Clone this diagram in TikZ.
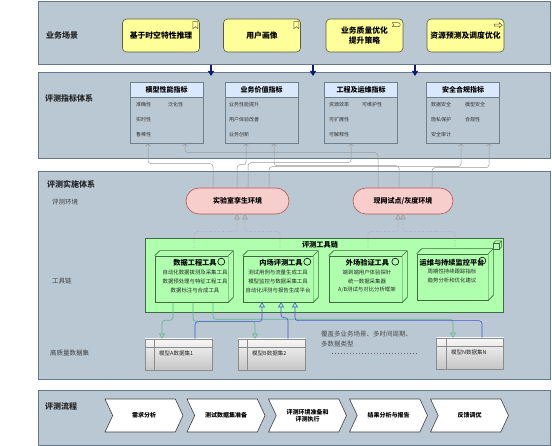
\documentclass[tikz,border=0pt]{standalone}
\usepackage{fontspec}
\setmainfont{Noto Sans CJK SC}
\usetikzlibrary{arrows.meta,shapes.symbols,calc}

\definecolor{panelc}{HTML}{BAC8D3}
\definecolor{paneld}{HTML}{647A8C}
\definecolor{busfill}{HTML}{FFFF99}
\definecolor{busline}{HTML}{5C5C3D}
\definecolor{hdrfill}{HTML}{DAE8FC}
\definecolor{boxline}{HTML}{6E7F8E}
\definecolor{envfill}{HTML}{F8CECC}
\definecolor{envline}{HTML}{B85450}
\definecolor{techfill}{HTML}{AFFFAF}
\definecolor{techline}{HTML}{3F6B3F}
\definecolor{navyc}{HTML}{0B1A7A}
\definecolor{greenc}{HTML}{5DB88F}
\definecolor{bluec}{HTML}{4657D6}
\definecolor{grayc}{HTML}{9A9A9A}
\definecolor{dsline}{HTML}{8C8C8C}

\newcommand{\fsz}[2]{\fontsize{#1}{#2}\selectfont}
\newcommand{\cubeface}[1]{%
  \fill[techfill] (#1.north west) -- ++(5,-5) -- ([shift={(5,-5)}]#1.north east) -- ([shift={(5,-5)}]#1.south east) -- (#1.south east) -- (#1.north east) -- cycle;
  \draw[techline, line width=0.6pt, line join=round] (#1.north west) -- ++(5,-5) -- ([shift={(5,-5)}]#1.north east) -- ([shift={(5,-5)}]#1.south east) -- (#1.south east) (#1.north east) -- ++(5,-5);
}

\tikzset{
  panel/.style={draw=paneld, fill=panelc, line width=0.8pt, inner sep=0pt, anchor=north west},
  plabel/.style={anchor=west, inner sep=0pt, font=\fsz{8}{9}\bfseries, text=black!85},
  slabel/.style={anchor=west, inner sep=0pt, font=\fsz{6.5}{7.5}, text=black!75},
  busbox/.style={draw=busline, fill=busfill, rounded corners=4pt, minimum width=77pt, minimum height=33pt, font=\fsz{7.8}{10}\bfseries, align=center, inner sep=0pt, line width=0.6pt},
  mbox/.style={draw=boxline, line width=0.6pt, minimum width=73pt, minimum height=61pt, inner sep=0pt},
  mhdr/.style={draw=boxline, fill=hdrfill, line width=0.6pt, minimum width=73pt, minimum height=15pt, inner sep=0pt, font=\fsz{7}{8}\bfseries},
  mitem/.style={anchor=west, inner sep=0pt, font=\fsz{5}{6}, text=black!80},
  env/.style={draw=envline, fill=envfill, rounded corners=13pt, minimum height=26pt, inner sep=0pt, font=\fsz{7}{8}\bfseries, line width=0.6pt},
  tool/.style={draw=techline, fill=techfill, line width=0.6pt, inner sep=0pt},
  toolt/.style={font=\fsz{7.2}{8}\bfseries, inner sep=0pt},
  toolb/.style={font=\fsz{5.4}{8.6}, align=center, inner sep=0pt, text=black!85},
  ds/.style={draw=dsline, top color=gray!6, bottom color=gray!45, minimum width=67pt, minimum height=31pt, inner sep=0pt, line width=0.6pt},
  dst/.style={anchor=west, font=\fsz{5.5}{6.5}, inner sep=0pt, text=black!85},
  chev/.style={signal, signal to=east, signal from=west, signal pointer angle=130, draw=black!75, fill=white, minimum width=78pt, minimum height=33pt, inner sep=0pt, font=\fsz{6}{7.5}\bfseries, align=center, line width=0.6pt},
  gl/.style={draw=grayc, line width=0.5pt, rounded corners=3pt, -{Straight Barb[length=2.5pt,width=5pt]}},
  dl/.style={draw=grayc, line width=0.6pt, dotted, rounded corners=3pt, -{Triangle[open,length=5pt,width=5.5pt]}},
  gr/.style={draw=greenc, line width=0.6pt, rounded corners=3pt, -{Triangle[open,length=5pt,width=6pt]}},
  bl/.style={draw=bluec, line width=0.6pt, rounded corners=3pt, -{Triangle[open,length=5pt,width=6pt]}},
  nav/.style={draw=navyc, line width=1.3pt, -{Triangle[length=5pt,width=6pt]}},
  icon/.style={draw=busline, line width=0.5pt}
}

\begin{document}
\begin{tikzpicture}[x=1pt,y=-1pt]
\useasboundingbox (0,0) rectangle (552,446);

% panels
\node[panel, minimum width=512pt, minimum height=63pt] (p1) at (38,1) {};
\node[panel, minimum width=512pt, minimum height=86pt] (p2) at (38,72) {};
\node[panel, minimum width=512pt, minimum height=208pt] (p3) at (38,171) {};
\node[panel, minimum width=512pt, minimum height=55pt] (p4) at (38,390) {};

% labels
\node[plabel] (l1) at (46,35) {业务场景};
\node[plabel] (l2) at (45,98) {评测指标体系};
\node[plabel] (l3) at (47,184) {评测实施体系};
\node[slabel] (l3a) at (52,202) {评测环境};
\node[slabel] (l3b) at (52,281) {工具链};
\node[slabel] (l3c) at (50,353) {高质量数据集};
\node[plabel] (l4) at (45,406) {评测流程};

% business scenarios
\node[busbox] (s1) at (161,35.5) {基于时空特性推理};
\node[busbox] (s2) at (262,35.5) {用户画像};
\node[busbox] (s3) at (364.5,35.5) {业务质量优化\\提升策略};
\node[busbox] (s4) at (465.5,35.5) {资源预测及调度优化};
\draw[icon] ([shift={(-7,3)}]s1.north east) -- ++(5,0) -- ++(0,7) -- ++(-2.5,-2) -- ++(-2.5,2) -- cycle;
\draw[icon] ([shift={(-7,3)}]s2.north east) -- ++(5,0) -- ++(0,7) -- ++(-2.5,-2) -- ++(-2.5,2) -- cycle;
\draw[icon] ([shift={(-11,4)}]s3.north east) -- ++(6,0) .. controls ++(2.5,0) and ++(2.5,0) .. ++(0,4) -- ++(-6,0) -- ++(1.5,-2) -- cycle;
\draw[icon] ([shift={(-10,5.5)}]s4.north east) -- ++(5,0) -- ++(0,-1.5) -- ++(3,2.5) -- ++(-3,2.5) -- ++(0,-1.5) -- ++(-5,0) -- cycle;

% navy arrows
\draw[nav] ([xshift=173pt]p1.south west) -- ([xshift=173pt,yshift=-4pt]p2.north west);
\draw[nav] ([xshift=275pt]p1.south west) -- ([xshift=275pt,yshift=-4pt]p2.north west);
\draw[nav] ([xshift=377pt]p1.south west) -- ([xshift=377pt,yshift=-4pt]p2.north west);

% metric boxes
\node[mbox] (m1) at (166.5,112.5) {};
\node[mhdr, anchor=north] (m1h) at (m1.north) {模型性能指标};
\node[mbox] (m2) at (261.5,112.5) {};
\node[mhdr, anchor=north] (m2h) at (m2.north) {业务价值指标};
\node[mbox] (m3) at (361,112.5) {};
\node[mhdr, anchor=north] (m3h) at (m3.north) {工程及运维指标};
\node[mbox] (m4) at (463,112.5) {};
\node[mhdr, anchor=north] (m4h) at (m4.north) {安全合规指标};

\node[mitem] (i11) at (136,105) {准确性};
\node[mitem] (i12) at (168,105) {泛化性};
\node[mitem] (i13) at (136,120) {实时性};
\node[mitem] (i14) at (136,135) {鲁棒性};
\node[mitem] (i21) at (229,105) {业务性能提升};
\node[mitem] (i22) at (229,120) {用户体验改善};
\node[mitem] (i23) at (229,135) {业务创新};
\node[mitem] (i31) at (329,105) {资源效率};
\node[mitem] (i32) at (362,105) {可维护性};
\node[mitem] (i33) at (329,120) {可扩展性};
\node[mitem] (i34) at (329,135) {可解释性};
\node[mitem] (i41) at (431,105) {数据安全};
\node[mitem] (i42) at (465,105) {模型安全};
\node[mitem] (i43) at (431,120) {隐私保护};
\node[mitem] (i44) at (465,120) {合规性};
\node[mitem] (i45) at (431,135) {安全审计};

% environments
\node[env, minimum width=103pt] (lab) at (237.5,201) {实验室孪生环境};
\node[env, minimum width=100pt] (pil) at (403,201) {现网试点/灰度环境};

% env -> metrics
\draw[gl] ([xshift=-24.5pt]lab.north) -- ++(0,-24) -| ([xshift=-18.5pt]m1.south);
\draw[gl] ([xshift=-25pt]pil.north) -- ++(0,-35) -| ([xshift=18.5pt]m1.south);
\draw[gl] ([xshift=-0.5pt]lab.north) -- ++(0,-23) -| ([xshift=-15.5pt]m2.south);
\draw[gl] ([xshift=10.5pt]lab.north) -- ++(0,-25) -| ([xshift=-10pt]m3.south);
\draw[gl] ([xshift=31.5pt]lab.north) -- ++(0,-21) -| ([xshift=-2pt]m4.south);
\draw[gl] ([xshift=-4pt]pil.north) -- ++(0,-22) -| ([xshift=12.5pt]m2.south);
\draw[gl] ([xshift=29pt]pil.north) -- ++(0,-20) -| ([xshift=26pt]m4.south);

% tool chain container
\node[tool, minimum width=358pt, minimum height=74pt, anchor=north west] (chain) at (145,238) {};
\node[toolt] (chainh) at (320,245) {评测工具链};
\draw[techline, line width=0.5pt, fill=techfill] ([shift={(-10,5)}]chain.north east) rectangle ([shift={(-4,11)}]chain.north east);
\draw[techline, line width=0.5pt] ([shift={(-10,5)}]chain.north east) -- ++(2,-2) -- ++(6,0) -- ++(0,6) -- ++(-2,2) ([shift={(-4,5)}]chain.north east) -- ++(2,-2);

% tools
\node[tool, minimum width=73pt, minimum height=46pt] (t1) at (191.5,279) {};
\cubeface{t1}
\node[tool, minimum width=70pt, minimum height=46pt] (t2) at (278,279) {};
\cubeface{t2}
\node[tool, minimum width=73pt, minimum height=46pt] (t3) at (365.5,279) {};
\cubeface{t3}
\node[tool, minimum width=71pt, minimum height=46pt] (t4) at (452.5,277) {};
\cubeface{t4}

\draw[line width=0.6pt] ([shift={(-7,6)}]t1.north east) circle (3.5pt);
\draw[line width=0.6pt] ([shift={(-6,6)}]t2.north east) circle (3.5pt);
\draw[line width=0.6pt] ([shift={(-7,6)}]t3.north east) circle (3.5pt);

\node[toolt] (t1h) at (195,263) {数据工程工具};
\node[toolt] (t2h) at (281,263) {内场评测工具};
\node[toolt] (t3h) at (367.5,263) {外场验证工具};
\node[toolt] (t4h) at (452,263) {运维与持续监控平台};
\draw[line width=0.6pt] ([shift={(-6,7)}]t4.north east) circle (3.5pt);

\node[toolb] (t1b) at (195,281.5) {自动化数据拨测及采集工具\\数据预处理与特征工程工具\\数据标注与合成工具};
\node[toolb] (t2b) at (278,281.5) {测试用例与流量生成工具\\模型监控与数据采集工具\\自动化评测与报告生成平台};
\node[toolb] (t3b) at (367,281.5) {端到端用户体验探针\\统一数据采集器\\A/B测试与对比分析框架};
\node[toolb] (t4b) at (452,276) {周期性持续跟踪指标\\趋势分析和优化建议};

% realization (tools -> environments)
\draw[dl] ([xshift=2.5pt,yshift=5pt]t1.north) -- ++(0,-19) -| ([xshift=-0.5pt]lab.south);
\draw[dl] ([xshift=2pt,yshift=5pt]t2.north) -- ++(0,-19) -| ([xshift=7.5pt]lab.south);
\draw[dl] ([xshift=2.5pt,yshift=5pt]t3.north) -- ++(0,-19) -| ([xshift=-5pt]pil.south);
\draw[dl] ([xshift=2.5pt,yshift=5pt]t4.north) -- ++(0,-17) -| ([xshift=0pt]pil.south);

% datasets
\node[ds] (dA) at (178.5,354.5) {};
\node[ds] (dB) at (271.5,354.5) {};
\node[ds] (dN) at (470,353.5) {};
\foreach \d in {dA,dB,dN}{
  \draw[dsline, line width=0.5pt] ([xshift=10pt]\d.north west) -- ([xshift=10pt]\d.south west);
  \draw[dsline, line width=0.5pt] ([yshift=-9pt]\d.north west) -- ([yshift=-9pt]\d.north east);
}
\node[dst] (dAt) at (159,353) {模型A数据集1};
\node[dst] (dBt) at (252,353) {模型B数据集2};
\node[dst] (dNt) at (451,352) {模型N数据集N};

\node[anchor=north west, font=\fsz{6.5}{10}, align=left, text=black!70, inner sep=0pt] (note) at (321,331) {覆盖多业务场景、多时间周期、\\多数据类型};
\coordinate (dots1) at (332,353);
\coordinate (dots2) at (418,353);
\draw[black!60, line width=0.6pt, dash pattern=on 0.8pt off 2.2pt] (dots1) -- (dots2);

% tool1 -> datasets (green)
\draw[gr] ([xshift=-18.5pt]t1.south) -- ++(0,18) -| ([xshift=-16.5pt]dA.north);
\draw[gr] ([xshift=1.5pt]t1.south) -- ++(0,19) -| ([xshift=-16.5pt]dB.north);
\draw[gr] ([xshift=21.5pt]t1.south) -- ++(0,17) -| ([xshift=-17pt]dN.north);

% datasets -> tool2 (blue)
\draw[bl] ([xshift=16.5pt]dA.north) -- ++(0,-17) -| ([xshift=-16pt]t2.south);
\draw[bl] ([xshift=16.5pt]dB.north) -- ++(0,-21) -| ([xshift=3pt]t2.south);
\draw[bl] ([xshift=12pt]dN.north) -- ++(0,-17) -| ([xshift=17pt]t2.south);

% process chevrons
\node[chev] (c1) at (144,415.5) {需求分析};
\node[chev] (c2) at (226,415.5) {测试数据集准备};
\node[chev] (c3) at (307.5,415.5) {评测环境准备和\\评测执行};
\node[chev] (c4) at (388.5,415.5) {结果分析与报告};
\node[chev] (c5) at (469.5,415.5) {反馈调优};

\end{tikzpicture}
\end{document}
